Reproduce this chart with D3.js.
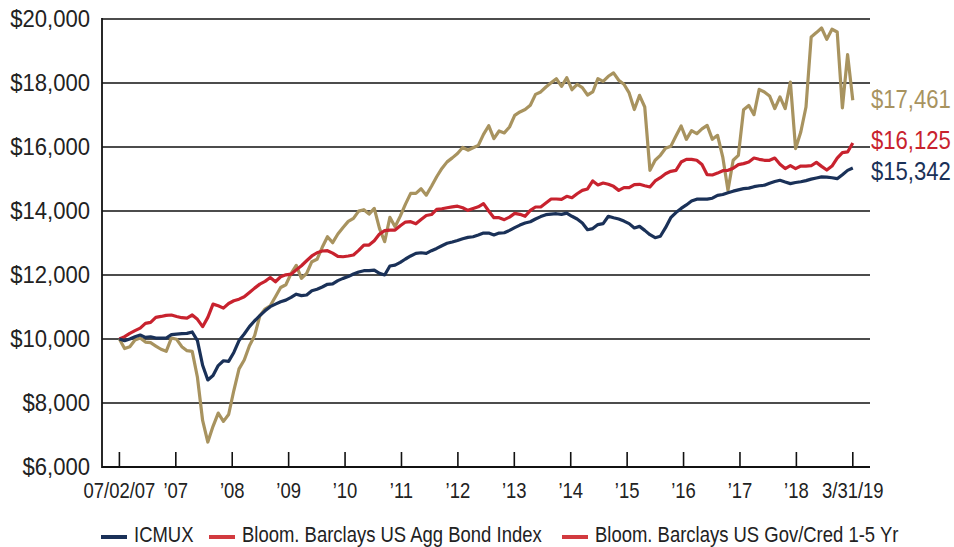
<!DOCTYPE html>
<html>
<head>
<meta charset="utf-8">
<script src="https://cdn.jsdelivr.net/npm/d3@7"></script>
<style>
  body { margin: 0; background: #fff; }
  svg text { font-family: "Liberation Sans Narrow", "Arial Narrow", "Liberation Sans", sans-serif; }
</style>
</head>
<body>
<svg id="chart"></svg>
<script>
// growth of $10,000, monthly from 07/02/07 to 3/31/19
const tickLabels = ["07/02/07", "\u201907", "\u201908", "\u201909", "\u201910", "\u201911", "\u201912",
    "\u201913", "\u201914", "\u201915", "\u201916", "\u201917", "\u201918", "3/31/19"];
const yTicks = [6000, 8000, 10000, 12000, 14000, 16000, 18000, 20000];

const icmux = [
    10000, 9950, 10000, 10070, 10125, 10050, 10070, 10030, 10030, 10030,
    10135, 10155, 10165, 10175, 10220, 9950, 9180, 8720, 8860, 9170,
    9320, 9300, 9580, 9950, 10155, 10385, 10570, 10730, 10880, 11010,
    11090, 11165, 11215, 11300, 11400, 11355, 11375, 11510, 11555, 11625,
    11710, 11720, 11825, 11895, 11950, 12030, 12095, 12135, 12135, 12155,
    12050, 12000, 12280, 12310, 12395, 12500, 12595, 12675, 12695, 12675,
    12760, 12830, 12915, 12990, 13030, 13080, 13135, 13175, 13195, 13250,
    13310, 13310, 13250, 13310, 13320, 13395, 13480, 13560, 13625, 13665,
    13750, 13825, 13885, 13905, 13915, 13895, 13935, 13835, 13750, 13625,
    13415, 13450, 13575, 13605, 13835, 13790, 13750, 13685, 13605, 13470,
    13520, 13395, 13260, 13165, 13210, 13480, 13790, 13950, 14080, 14190,
    14310, 14370, 14375, 14370, 14400, 14490, 14515, 14570, 14620, 14660,
    14700, 14715, 14760, 14790, 14805, 14870, 14920, 14960, 14905, 14855,
    14890, 14915, 14950, 14995, 15030, 15065, 15060, 15040, 15010, 15135,
    15270, 15342
];

const aggBond = [
    10000, 10075, 10175, 10260, 10340, 10490, 10520, 10675, 10705, 10740,
    10750, 10705, 10665, 10655, 10750, 10615, 10385, 10675, 11090, 11040,
    10965, 11110, 11195, 11245, 11320, 11455, 11590, 11715, 11800, 11920,
    11790, 11945, 12005, 12025, 12160, 12290, 12445, 12595, 12695, 12750,
    12760, 12685, 12580, 12570, 12595, 12625, 12770, 12935, 12935, 13070,
    13280, 13385, 13405, 13405, 13540, 13655, 13665, 13600, 13735, 13860,
    13890, 14050, 14070, 14100, 14130, 14150, 14100, 14020, 14080, 14130,
    14230, 14000, 13790, 13790, 13730, 13810, 13925, 13895, 13835, 14020,
    14125, 14125, 14250, 14375, 14375, 14365, 14460, 14415, 14540, 14645,
    14690, 14940, 14815, 14875, 14835, 14770, 14645, 14730, 14730, 14825,
    14835, 14790, 14750, 14940, 15040, 15165, 15240, 15270, 15530, 15615,
    15615, 15585, 15450, 15135, 15125, 15185, 15260, 15270, 15335, 15450,
    15480, 15530, 15655, 15615, 15585, 15585, 15655, 15460, 15325, 15415,
    15325, 15405, 15405, 15415, 15520, 15395, 15280, 15405, 15655, 15825,
    15845, 16125
];

const goldSeries = [
    10000, 9700, 9760, 9970, 10030, 9905, 9885, 9780, 9680, 9615,
    10030, 9990, 9760, 9635, 9615, 8805, 7455, 6780, 7270, 7685,
    7425, 7640, 8390, 9065, 9345, 9790, 10105, 10725, 10935, 11040,
    11320, 11610, 11695, 12045, 12300, 11895, 12050, 12415, 12490, 12865,
    13195, 13010, 13280, 13485, 13675, 13770, 13995, 14040, 13905, 14080,
    13455, 13040, 13800, 13510, 13840, 14215, 14550, 14550, 14695, 14495,
    14775, 15070, 15330, 15535, 15660, 15795, 15985, 15900, 15975, 16050,
    16395, 16665, 16260, 16500, 16440, 16625, 16990, 17095, 17170, 17305,
    17645, 17720, 17875, 18010, 18135, 17895, 18165, 17790, 17960, 17855,
    17625, 17720, 18135, 18050, 18210, 18315, 18085, 17960, 17690, 17170,
    17615, 17250, 15270, 15585, 15740, 15960, 16020, 16345, 16655, 16240,
    16510, 16415, 16565, 16675, 16240, 16365, 15685, 14650, 15585, 15740,
    17165, 17300, 17010, 17800, 17720, 17595, 17200, 17565, 17200, 18030,
    15950, 16470, 17250, 19440, 19575, 19720, 19365, 19680, 19595, 17220,
    18885, 17461
];

const endLabels = ["$17,461", "$16,125", "$15,342"];
const legendNames = ["ICMUX", "Bloom. Barclays US Agg Bond Index", "Bloom. Barclays US Gov/Cred 1-5 Yr"];

const NAVY = "#1a3158", RED = "#c8222e", GOLD = "#a8935f";

const width = 954, height = 547;
const svg = d3.select("#chart").attr("width", width).attr("height", height);

const plotLeft = 102, plotRight = 870, plotTop = 19, plotBottom = 467;

const x = d3.scaleLinear().domain([0, icmux.length - 1]).range([119.4, 852.8]);
const xTick = d3.scalePoint().domain(tickLabels).range([119.4, 852.8]);
const y = d3.scaleLinear().domain([6000, 20000]).range([plotBottom, plotTop]);

// no narrow font installed, so squeeze text horizontally
function squeeze(tx, ty, s) {
    return `translate(${tx},${ty}) scale(${s},1)`;
}

// gridlines
svg.append("g")
    .selectAll("line")
    .data(yTicks.slice(1))
    .enter()
    .append("line")
    .attr("x1", plotLeft).attr("x2", plotRight)
    .attr("y1", d => y(d)).attr("y2", d => y(d))
    .attr("stroke", "#111").attr("stroke-width", 1.6);

// y labels
svg.append("g")
    .selectAll("text")
    .data(yTicks)
    .enter()
    .append("text")
    .attr("transform", d => squeeze(90, y(d) + 8, 0.96))
    .attr("text-anchor", "end")
    .attr("font-size", "23px")
    .attr("fill", "#222")
    .text(d => "$" + d3.format(",")(d));

// axis lines
svg.append("line")
    .attr("x1", plotLeft).attr("x2", plotLeft)
    .attr("y1", plotTop - 1).attr("y2", plotBottom + 1)
    .attr("stroke", "#111").attr("stroke-width", 1.8);
svg.append("line")
    .attr("x1", plotLeft).attr("x2", plotRight)
    .attr("y1", plotBottom).attr("y2", plotBottom)
    .attr("stroke", "#111").attr("stroke-width", 1.8);

// x ticks (pointing up) and labels
const xg = svg.append("g");
xg.selectAll("line")
    .data(tickLabels)
    .enter()
    .append("line")
    .attr("x1", d => xTick(d)).attr("x2", d => xTick(d))
    .attr("y1", plotBottom - 15).attr("y2", plotBottom)
    .attr("stroke", "#111").attr("stroke-width", 1.6);
xg.selectAll("text")
    .data(tickLabels)
    .enter()
    .append("text")
    .attr("transform", d => squeeze(xTick(d), 498, 0.84))
    .attr("text-anchor", "middle")
    .attr("font-size", "22px")
    .attr("fill", "#222")
    .text(d => d);

// lines
const line = d3.line()
    .x((d, i) => x(i))
    .y(d => y(d));

const series = [
    { values: goldSeries, color: GOLD },
    { values: aggBond, color: RED },
    { values: icmux, color: NAVY }
];

svg.append("g")
    .selectAll("path")
    .data(series)
    .enter()
    .append("path")
    .attr("d", d => line(d.values))
    .attr("fill", "none")
    .attr("stroke", d => d.color)
    .attr("stroke-width", 3.2)
    .attr("stroke-linejoin", "round");

// end value labels
const endColors = [GOLD, RED, NAVY];
const endY = [108, 149, 180];
svg.append("g")
    .selectAll("text")
    .data(endLabels)
    .enter()
    .append("text")
    .attr("transform", (d, i) => squeeze(871, endY[i], 0.85))
    .attr("font-size", "26px")
    .attr("fill", (d, i) => endColors[i])
    .text(d => d);

// legend
const legendColors = [NAVY, "#d23a3f", "#d23a3f"];
const legendX = [101, 209, 562];
const legend = svg.append("g");
legendNames.forEach((name, i) => {
    legend.append("line")
        .attr("x1", legendX[i]).attr("x2", legendX[i] + 26)
        .attr("y1", 537).attr("y2", 537)
        .attr("stroke", legendColors[i])
        .attr("stroke-width", 4);
    legend.append("text")
        .attr("transform", squeeze(legendX[i] + 33, 542, 0.84))
        .attr("font-size", "22px")
        .attr("fill", "#222")
        .text(name);
});
</script>
</body>
</html>
